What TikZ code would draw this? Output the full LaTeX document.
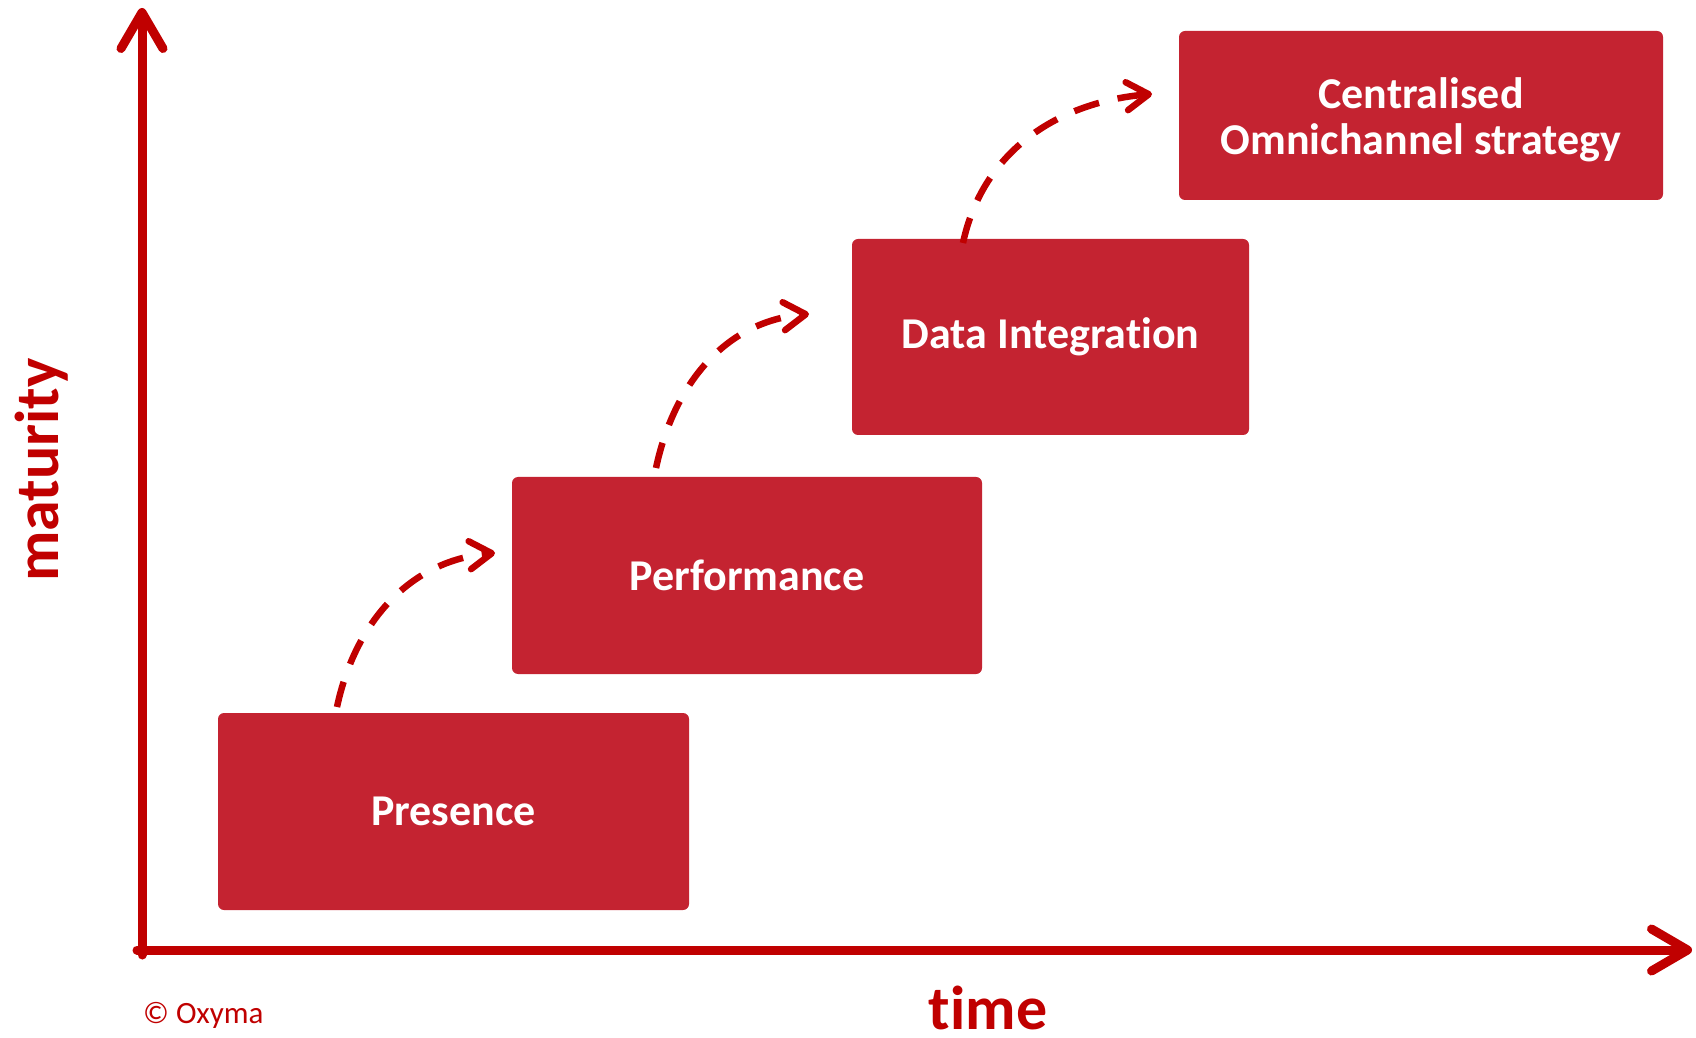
\documentclass[tikz,border=0pt]{standalone}
\usepackage{fontspec}
\setmainfont{Carlito}[Ligatures=NoCommon]
\usetikzlibrary{arrows.meta}
\definecolor{axisred}{HTML}{C00000}
\definecolor{boxred}{HTML}{C42331}

\begin{document}
\begin{tikzpicture}[x=1pt,y=1pt,
  stage/.style={fill=boxred, draw=none, rounded corners=6pt, inner sep=0pt,
    text=white, align=center, font=\fontsize{44}{46}\selectfont\bfseries},
  axisline/.style={draw=axisred, line width=9pt, line cap=round,
    -{Straight Barb[length=36pt,width=42pt,round]}},
  stepflow/.style={draw=axisred, line width=6.5pt, dash pattern=on 26pt off 19pt,
    -{Straight Barb[length=22pt,width=28pt,round]}},
  axislabel/.style={text=axisred, inner sep=0pt, font=\fontsize{62}{62}\selectfont\bfseries}]

% canvas
\useasboundingbox (0,0) rectangle (1696,1037);

% axes
\coordinate (ytop) at (142,1029);
\coordinate (xend) at (1692,87);
\coordinate (ybottom) at (142,82);
\coordinate (xstart) at (137,87);
\draw[axisline] (ybottom) -- (ytop);
\draw[axisline] (xstart) -- (xend);

% stages
\node[stage, minimum width=471pt, minimum height=197pt] (presence) at (453.5,225.5) {Presence};
\node[stage, minimum width=470pt, minimum height=197pt] (performance) at (747,461.5) {Performance};
\node[stage, minimum width=397pt, minimum height=196pt] (data) at (1050.5,700) {Data Integration};
\node[stage, minimum width=484pt, minimum height=169pt] (omni) at (1421,921.5) {};
\node[stage, fill=none, anchor=center] (omnitext) at (1421,917) {Centralised\\Omnichannel strategy};

% dashed progress arrows between stages
\coordinate (s1) at (337,330);
\coordinate (e1) at (495,484);
\coordinate (s2) at (656,569);
\coordinate (e2) at (809,723);
\coordinate (s3) at (963,794);
\coordinate (e3) at (1152,943);
\draw[stepflow] (s1) to[out=78,in=185] (e1);
\draw[stepflow] (s2) to[out=78,in=185] (e2);
\draw[stepflow] (s3) to[out=78,in=185] (e3);

% axis labels
\node[axislabel, rotate=90, anchor=base] (maturity) at (58,567) {maturity};
\node[axislabel, anchor=base] (time) at (988,8) {time};
\node[text=axisred, inner sep=0pt, anchor=base west, font=\fontsize{31}{31}\selectfont] (copy) at (143,14) {© Oxyma};
\end{tikzpicture}
\end{document}
